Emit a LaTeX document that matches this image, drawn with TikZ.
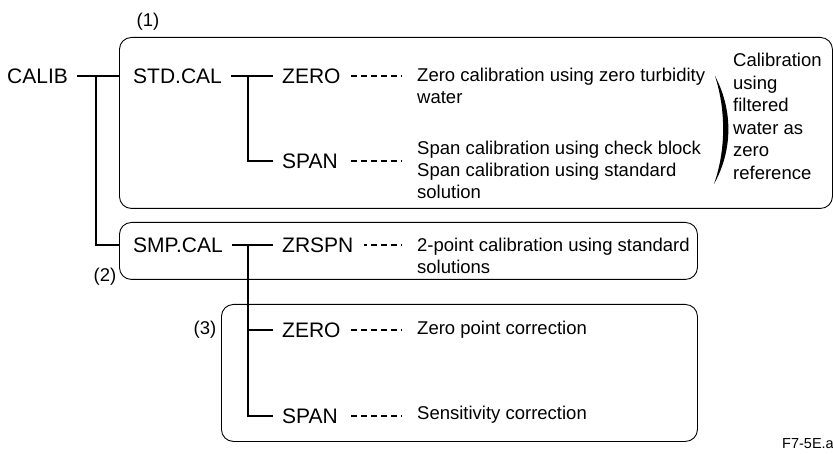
\documentclass[tikz,border=0pt]{standalone}
\usepackage{fontspec}
\setmainfont{Liberation Sans}
\usetikzlibrary{calc}

\begin{document}
\begin{tikzpicture}[x=1pt,y=-1pt,
  lbl/.style={inner xsep=9pt,inner ysep=0pt,anchor=west,font=\fontsize{21}{24}\selectfont},
  desc/.style={inner sep=0pt,align=left,font=\fontsize{18.5}{22}\selectfont},
  grp/.style={draw,line width=0.9pt,rounded corners=12pt,anchor=north west,inner sep=0pt},
  tree/.style={line width=2.6pt},
  dots/.style={line width=1.5pt,shorten <=15pt,shorten >=1pt,
    dash pattern=on 1pt off 4pt on 6pt off 4pt on 6pt off 4pt on 6pt off 4pt on 6pt off 4pt on 6pt off 4pt on 6pt off 60pt}]
\useasboundingbox (0,0) rectangle (833,454);
\clip (0,0) rectangle (833,454);
% group frames
\node[grp,minimum width=713pt,minimum height=171pt] (grp1) at (119,37) {};
\node[grp,minimum width=578pt,minimum height=57pt] (grp2) at (119,222) {};
\node[grp,minimum width=476pt,minimum height=137pt] (grp3) at (221,304) {};
\node[desc] (n1) at (148,22) {(1)};\node[desc] (n2) at (105,277) {(2)};\node[desc] (n3) at (205,330) {(3)};
% menu items
\node[lbl] (calib) at (-2,76) {CALIB};
\node[lbl] (stdcal) at (124,76) {STD.CAL};\node[lbl] (smpcal) at (124,245) {SMP.CAL};
\node[lbl] (zero1) at (273,76) {ZERO};\node[lbl] (span1) at (273,161) {SPAN};
\node[lbl] (zrspn) at (273,245) {ZRSPN};
\node[lbl] (zero2) at (273,330) {ZERO};\node[lbl] (span2) at (273,416) {SPAN};
% descriptions
\node[desc,anchor=north west] (d1) at (417,68) {Zero calibration using zero turbidity\\water};
\node[desc,anchor=north west] (d2) at (417,141) {Span calibration using check block\\Span calibration using standard\\solution};
\node[desc,anchor=north west] (d3) at (417,238) {2-point calibration using standard\\solutions};
\node[desc,anchor=west] (d4) at (417,330) {Zero point correction};
\node[desc,anchor=west] (d5) at (417,415) {Sensitivity correction};
\node[desc,anchor=north west,font=\fontsize{18.5}{22.5}\selectfont] (ref) at (733,53) {Calibration\\using\\filtered\\water as\\zero\\reference};
\fill (715,76) .. controls (733,110) and (733,150) .. (714,184) .. controls (726,150) and (726,110) .. (715,76);
\node[desc,anchor=west,font=\fontsize{14.5}{16}\selectfont] (fig) at (782,443) {F7-5E.ai};
% tree
\coordinate (fork1) at (96,76);\coordinate (fork2) at (248,76);\coordinate (fork3) at (248,245);
\draw[tree] (calib.east) -- (calib.east -| grp1.west);
\draw[tree] (fork1) |- (smpcal.west -| grp2.west);
\draw[tree] (stdcal.east) -- (zero1.west);\draw[tree] (fork2) |- (span1.west);
\draw[tree] (smpcal.east) -- (zrspn.west);\draw[tree] (fork3) |- (span2.west);
\draw[tree] (fork3 |- zero2) -- (zero2.west);
% dotted leaders
\draw[dots] (zero1.east -| d1.west) -- (zero1.east);
\draw[dots] (span1.east -| d2.west) -- (span1.east);
\draw[dots] (zrspn.east -| d3.west) -- (zrspn.east);
\draw[dots] (zero2.east -| d4.west) -- (zero2.east);
\draw[dots] (span2.east -| d5.west) -- (span2.east);
\end{tikzpicture}
\end{document}
